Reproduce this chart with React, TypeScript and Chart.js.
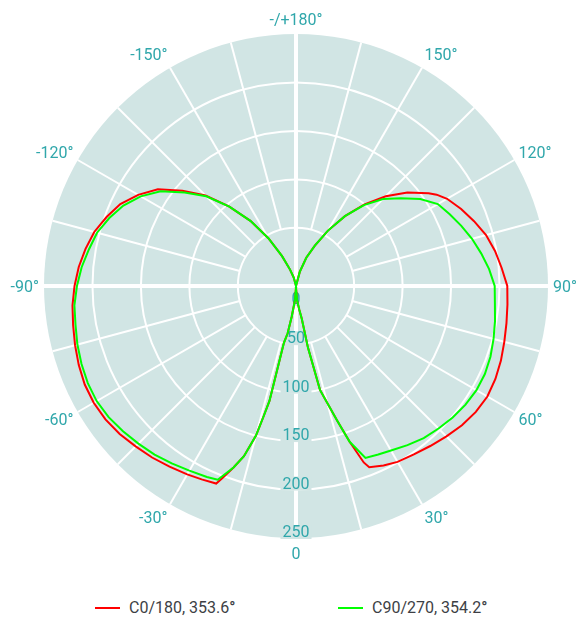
import React, { useEffect, useLayoutEffect, useRef } from 'react';
import { Chart, registerables } from 'chart.js';

Chart.register(...registerables);

// ---- data -----------------------------------------------------------------
const SERIES_NAMES = ['C0/180, 353.6', 'C90/270, 354.2'];

const ANGLE_LABEL_GAMMAS = [0, -30, -60, -90, -120, -150, 180, 150, 120, 90, 60, 30];
const ANGLE_LABEL_TEXTS = ['0', '-30°', '-60°', '-90°', '-120°', '-150°', '-/+180°', '150°', '120°', '90°', '60°', '30°'];
const RADIAL_TICKS = [0, 50, 100, 150, 200, 250];
const SCALE_MIN = -10;
const SCALE_MAX = 250;
const SPOKE_STEP = 15;

// C0/180 (red): gamma in degrees (negative = left half), intensity
const C0_ANGLES = [-165, -160, -155, -150, -145, -140, -135, -130, -125, -120, -115, -110, -105, -100, -95, -90, -85, -80, -75, -70, -65, -60, -55, -50, -45, -40, -35, -30, -26, -22, -21, -19, -17, -15, -14, -13, -12, -10, -8, -4, 0, 4, 8, 10, 11, 13, 17, 19, 21, 22, 26, 30, 35, 40, 45, 50, 55, 60, 65, 70, 75, 80, 85, 90, 95, 100, 105, 110, 115, 120, 123, 125, 130, 135, 140, 145, 150, 155, 160, 165, 180];
const C0_VALUES = [-1, 8, 24, 47, 72, 97, 122, 143, 164, 178, 190, 198, 205.5, 210.5, 215, 218.5, 221.5, 223.5, 226, 228.5, 230.5, 231, 230, 227.5, 224, 221, 217.5, 214.5, 212, 209.8, 202.5, 188, 173.7, 150, 129.3, 111.7, 50, 39.5, 22, 4.4, -10, 4.4, 15, 24, 55, 100, 135, 160, 185, 191.7, 196, 199.5, 202, 205.5, 209.5, 213.5, 216.5, 218, 217, 215, 212.5, 210.5, 209, 208, 203, 198.5, 193, 185.5, 178, 170, 163, 157, 140, 121, 100, 78, 56, 36, 21, 5, -10];

// C90/270 (green)
const C90_ANGLES = [-165, -160, -155, -150, -145, -140, -135, -130, -125, -120, -115, -110, -105, -100, -95, -90, -85, -80, -75, -70, -65, -60, -55, -50, -45, -40, -35, -30, -25, -22, -21, -19, -17, -15, -14, -13, -12, -10, -8, -4, 0, 4, 8, 10, 11, 13, 17, 19, 22, 26, 30, 35, 40, 45, 50, 55, 60, 65, 70, 75, 80, 85, 90, 95, 100, 105, 110, 115, 120, 125, 130, 135, 140, 145, 150, 155, 160, 165, 180];
const C90_VALUES = [-1, 8, 24, 47, 72, 97, 121, 140, 160.5, 175, 186.5, 195, 202.5, 207, 212, 216, 219.5, 221, 223.5, 225.5, 227, 227.5, 226, 223, 220, 217, 213.5, 210, 207.5, 205.6, 199.5, 188, 173.7, 150, 129.3, 111.7, 50, 39.5, 22, 4.4, -10, 4.4, 15, 24, 55, 100, 135, 160, 181.3, 183.5, 186, 190.5, 195, 198, 201, 203.5, 205, 205, 203.5, 201, 198.5, 196, 195, 190, 184, 178, 171.5, 165, 159, 146.5, 131, 117, 99, 78, 56, 36, 21, 5, -10];

// ---- styles ---------------------------------------------------------------
const RED = '#ff0000';
const GREEN = '#00ff00';
const DISK = '#d1e5e4';
const TEAL = '#30a7ab';
const FONT_FAMILY = 'Roboto, "Open Sans", sans-serif';
const STEPS = 360;

// gamma (deg) -> radar index (index 0 at bottom, clockwise)
const indexOf = (g: number) => {
  const i = g <= 0 ? -g : 360 - g;
  return ((Math.round(i) % STEPS) + STEPS) % STEPS;
};

const buildSeries = (angles: number[], values: number[]) => {
  const arr: (number | null)[] = new Array(STEPS).fill(null);
  angles.forEach((g, k) => {
    arr[indexOf(g)] = values[k];
  });
  return arr;
};

const gridPlugin = {
  id: 'photoGrid',
  beforeDatasetsDraw(chart: any) {
    const s = chart.scales.r;
    const ctx = chart.ctx as CanvasRenderingContext2D;
    const xC = s.xCenter;
    const yC = s.yCenter;
    const R = s.drawingArea;
    ctx.save();

    // disk
    ctx.beginPath();
    ctx.arc(xC, yC, R, 0, Math.PI * 2);
    ctx.fillStyle = DISK;
    ctx.fill();

    // rings
    ctx.strokeStyle = '#ffffff';
    ctx.lineWidth = 2;
    RADIAL_TICKS.forEach((v) => {
      const r = s.getDistanceFromCenterForValue(v);
      if (r <= 12 || r >= R - 1) return;
      ctx.beginPath();
      ctx.arc(xC, yC, r, 0, Math.PI * 2);
      ctx.stroke();
    });

    // spokes (from ring 50 outward)
    const rIn = s.getDistanceFromCenterForValue(RADIAL_TICKS[1]);
    for (let g = -180 + SPOKE_STEP; g < 180; g += SPOKE_STEP) {
      if (g % 90 === 0) continue;
      const i = indexOf(g);
      const a = s.getPointPosition(i, rIn);
      const b = s.getPointPosition(i, R);
      ctx.beginPath();
      ctx.moveTo(a.x, a.y);
      ctx.lineTo(b.x, b.y);
      ctx.stroke();
    }

    // main axes
    ctx.lineWidth = 4;
    [0, 90, 180, -90].forEach((g) => {
      const b = s.getPointPosition(indexOf(g), R);
      ctx.beginPath();
      ctx.moveTo(xC, yC);
      ctx.lineTo(b.x, b.y);
      ctx.stroke();
    });

    // radial tick labels (down the 0° axis)
    ctx.font = `16px ${FONT_FAMILY}`;
    ctx.textAlign = 'center';
    ctx.textBaseline = 'middle';
    RADIAL_TICKS.forEach((v) => {
      const r = s.getDistanceFromCenterForValue(v);
      const y = v === 0 ? yC + 13 : yC + r - 6;
      const label = String(v);
      const w = ctx.measureText(label).width;
      ctx.fillStyle = DISK;
      ctx.fillRect(xC - w / 2 - 2, y - 7, w + 4, 14);
      ctx.fillStyle = TEAL;
      ctx.fillText(label, xC, y + 1);
    });

    // angle labels: edge-aligned horizontally at R+5, centred vertically at R+14.5
    ctx.font = `16px ${FONT_FAMILY}`;
    ctx.fillStyle = TEAL;
    ctx.textBaseline = 'middle';
    ANGLE_LABEL_GAMMAS.forEach((g, k) => {
      const text = ANGLE_LABEL_TEXTS[k];
      const ag = Math.abs(g);
      const edge = s.getPointPosition(indexOf(g), R + 5);
      const mid = s.getPointPosition(indexOf(g), R + 15);
      let align: CanvasTextAlign = 'center';
      if (ag !== 0 && ag !== 180) align = g > 0 ? 'left' : 'right';
      ctx.textAlign = align;
      ctx.fillText(text, edge.x, mid.y + 1.5);
    });

    ctx.restore();
  },
};

export default function App() {
  const canvasRef = useRef<HTMLCanvasElement | null>(null);

  useLayoutEffect(() => {
    document.body.style.margin = '0';
  }, []);

  useEffect(() => {
    if (!canvasRef.current) return;
    const labels = new Array(STEPS).fill('');
    const chart = new Chart(canvasRef.current, {
      type: 'radar',
      data: {
        labels,
        datasets: [
          {
            label: SERIES_NAMES[1],
            data: buildSeries(C90_ANGLES, C90_VALUES),
            borderColor: GREEN,
            backgroundColor: 'transparent',
            borderWidth: 2,
            fill: false,
            pointRadius: 0,
            pointHoverRadius: 0,
            tension: 0,
            spanGaps: true,
          },
          {
            label: SERIES_NAMES[0],
            data: buildSeries(C0_ANGLES, C0_VALUES),
            borderColor: RED,
            backgroundColor: 'transparent',
            borderWidth: 2,
            fill: false,
            pointRadius: 0,
            pointHoverRadius: 0,
            tension: 0,
            spanGaps: true,
          },
        ],
      },
      options: {
        animation: false,
        responsive: true,
        maintainAspectRatio: false,
        layout: { padding: { left: 44, right: 31, top: 34, bottom: 42 } },
        plugins: {
          legend: { display: false },
          tooltip: { enabled: false },
        },
        scales: {
          r: {
            min: SCALE_MIN,
            max: SCALE_MAX,
            startAngle: 180,
            beginAtZero: false,
            ticks: { display: false, stepSize: 50 },
            grid: { display: false },
            angleLines: { display: false },
            pointLabels: { display: false },
          },
        },
      } as any,
      plugins: [gridPlugin],
    });
    return () => chart.destroy();
  }, []);

  const legendText: React.CSSProperties = {
    position: 'absolute',
    top: 0,
    height: 20,
    lineHeight: '20px',
    fontFamily: FONT_FAMILY,
    fontSize: 16,
    color: '#3d3f45',
    whiteSpace: 'nowrap',
  };
  const swatch = (color: string): React.CSSProperties => ({
    display: 'inline-block',
    width: 25,
    height: 1.5,
    background: color,
    verticalAlign: 'middle',
    marginRight: 9,
    position: 'relative',
    top: -1,
  });

  return (
    <div style={{ width: 579, height: 619, position: 'relative', overflow: 'hidden' }}>
      <div style={{ position: 'absolute', left: 0, top: 0, width: 579, height: 580 }}>
        <canvas ref={canvasRef} />
      </div>
      <div style={{ position: 'absolute', left: 0, top: 598, width: 579, height: 20 }}>
        <div style={{ ...legendText, left: 95 }}>
          <span style={swatch(RED)} />
          {SERIES_NAMES[0]}
          <span style={{ fontWeight: 700 }}>°</span>
        </div>
        <div style={{ ...legendText, left: 338 }}>
          <span style={swatch(GREEN)} />
          {SERIES_NAMES[1]}
          <span style={{ fontWeight: 700 }}>°</span>
        </div>
      </div>
    </div>
  );
}
